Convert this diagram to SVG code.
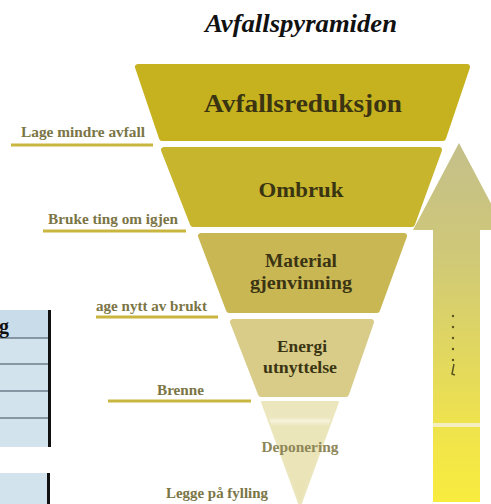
<svg xmlns="http://www.w3.org/2000/svg" width="491" height="504" viewBox="0 0 491 504">
<style>
.tier{stroke-linejoin:round;stroke-width:6}
.tt{font-family:"Liberation Serif",serif;font-weight:bold;fill:#3a3412;text-anchor:middle}
.lbl{font-family:"Liberation Serif",serif;font-weight:bold;font-size:14px;fill:#7b7546}
.ul{stroke:#c9b640;stroke-width:3;fill:none}
.row{stroke:#6d7d8a;stroke-width:1.5}
</style>
<defs>
<linearGradient id="arrowG" x1="0" y1="143" x2="0" y2="504" gradientUnits="userSpaceOnUse">
<stop offset="0" stop-color="#c4bf8a"/>
<stop offset="0.3" stop-color="#cfc879"/>
<stop offset="0.6" stop-color="#e2d85e"/>
<stop offset="0.78" stop-color="#efe34e"/>
<stop offset="1" stop-color="#f8ec3e"/>
</linearGradient>
<linearGradient id="t5G" x1="0" y1="400" x2="0" y2="504" gradientUnits="userSpaceOnUse">
<stop offset="0" stop-color="#ece6bd"/>
<stop offset="0.17" stop-color="#ede7c0"/>
<stop offset="0.2" stop-color="#f6f3dc"/>
<stop offset="0.25" stop-color="#ebe5ba"/>
<stop offset="1" stop-color="#e9e3b6"/>
</linearGradient>
</defs>
<rect width="491" height="504" fill="#ffffff"/>
<text x="301" y="32" font-family="Liberation Serif,serif" font-weight="bold" font-style="italic" font-size="26" text-anchor="middle" fill="#111" textLength="192" lengthAdjust="spacingAndGlyphs">Avfallspyramiden</text>

<g id="table">
<rect x="0" y="310" width="49" height="137" fill="#d3e3ee"/>
<rect x="0" y="310" width="49" height="28" fill="#c9dcea"/>
<line class="row" x1="0" y1="338" x2="48" y2="338"/>
<line class="row" x1="0" y1="364" x2="48" y2="364"/>
<line class="row" x1="0" y1="391" x2="48" y2="391"/>
<line class="row" x1="0" y1="418" x2="48" y2="418"/>
<line x1="49.5" y1="310" x2="49.5" y2="447" stroke="#111" stroke-width="3"/>
<text x="-1" y="333" font-family="Liberation Serif,serif" font-weight="bold" font-size="20" fill="#111">g</text>
<rect x="0" y="473" width="48" height="31" fill="#d3e3ee"/>
<line x1="48.5" y1="473" x2="48.5" y2="504" stroke="#111" stroke-width="3"/>
</g>

<g id="arrow">
<path d="M459,143 L505,230 L480,230 L480,502 L433,502 L433,230 L413,230 Z" fill="url(#arrowG)"/>
<rect x="433" y="423" width="47" height="4" fill="#f3efc0"/>
<g fill="#5a5520">
<circle cx="453" cy="316" r="1.2"/>
<circle cx="453" cy="327" r="1.2"/>
<circle cx="453" cy="338" r="1.2"/>
<circle cx="453" cy="349" r="1.2"/>
<circle cx="453" cy="360" r="1.2"/>
<path d="M454,364 L452,374 L455,375" stroke="#5a5520" stroke-width="1.5" fill="none"/>
</g>
</g>

<g id="tier1">
<polygon class="tier" points="138,67 467,67 443,138 162,138" fill="#c6b21f" stroke="#c6b21f"/>
<text class="tt" x="303" y="112" font-size="26" textLength="198" lengthAdjust="spacingAndGlyphs">Avfallsreduksjon</text>
</g>
<g id="tier2">
<polygon class="tier" points="164,150 439,150 412,224 193,224" fill="#c7b52d" stroke="#c7b52d"/>
<text class="tt" x="301" y="197" font-size="22" textLength="85" lengthAdjust="spacingAndGlyphs">Ombruk</text>
</g>
<g id="tier3">
<polygon class="tier" points="201,236 404,236 377,310 229,310" fill="#c9b754" stroke="#c9b754"/>
<text class="tt" x="301" y="267" font-size="18" textLength="72" lengthAdjust="spacingAndGlyphs">Material</text>
<text class="tt" x="301" y="289" font-size="18" textLength="102" lengthAdjust="spacingAndGlyphs">gjenvinning</text>
</g>
<g id="tier4">
<polygon class="tier" points="233,322 371,322 346,394 261,394" fill="#d8cc88" stroke="#d8cc88"/>
<text class="tt" x="302" y="352" font-size="16" textLength="50" lengthAdjust="spacingAndGlyphs">Energi</text>
<text class="tt" x="300" y="373" font-size="16" textLength="74" lengthAdjust="spacingAndGlyphs">utnyttelse</text>
</g>
<g id="tier5">
<polygon points="262,402 338,402 300,506" fill="url(#t5G)" stroke="#ece6bd" stroke-width="2" stroke-linejoin="round"/>
<text class="tt" x="300" y="452" font-size="14" style="fill:#8d8658" textLength="77" lengthAdjust="spacingAndGlyphs">Deponering</text>
</g>

<g id="labels">
<text class="lbl" x="21" y="137" textLength="124" lengthAdjust="spacingAndGlyphs">Lage mindre avfall</text>
<text class="lbl" x="48" y="224" textLength="130" lengthAdjust="spacingAndGlyphs">Bruke ting om igjen</text>
<text class="lbl" x="96" y="311" textLength="111" lengthAdjust="spacingAndGlyphs">age nytt av brukt</text>
<text class="lbl" x="157" y="395" textLength="47" lengthAdjust="spacingAndGlyphs">Brenne</text>
<text class="lbl" x="166" y="498" textLength="102" lengthAdjust="spacingAndGlyphs">Legge på fylling</text>
</g>

<g id="connectors">
<line class="ul" x1="11" y1="145" x2="153" y2="145"/>
<line class="ul" x1="43" y1="231" x2="186" y2="231"/>
<line class="ul" x1="96" y1="317" x2="218" y2="317"/>
<line class="ul" x1="108" y1="401" x2="251" y2="401"/>
</g>
</svg>
